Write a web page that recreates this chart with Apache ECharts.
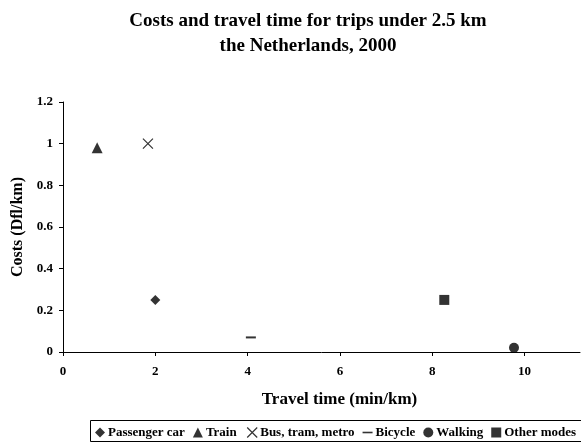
<!DOCTYPE html>
<html>
<head>
<meta charset="utf-8">
<script src="https://cdn.jsdelivr.net/npm/echarts@6/dist/echarts.min.js"></script>
<style>html,body{margin:0;padding:0;background:#fff}#c{width:581px;height:443px}</style>
</head>
<body>
<div id="c"></div>
<script>
var modes = ['Passenger car', 'Train', 'Bus, tram, metro', 'Bicycle', 'Walking', 'Other modes'];
var travelTime = [2.0, 0.74, 1.84, 4.07, 9.77, 8.26];
var costs = [0.25, 0.98, 1.0, 0.07, 0.02, 0.25];
var xTicks = [0, 2, 4, 6, 8, 10];
var yTicks = [0, 0.2, 0.4, 0.6, 0.8, 1, 1.2];

var F = 'Liberation Serif';
var crossPath = 'path://M0,0L10,10M10,0L0,10';
var symbols = ['diamond', 'triangle', crossPath, 'rect', 'circle', 'rect'];
var sizes = [10, 11, 10, [10, 2], 10, 10];

var series = modes.map(function (m, i) {
  var isCross = i === 2;
  return {
    name: m,
    type: 'scatter',
    data: [[travelTime[i], costs[i]]],
    symbol: symbols[i],
    symbolSize: sizes[i],
    itemStyle: isCross ? { color: 'none', borderColor: '#000', borderWidth: 1.2 } : { color: '#000' },
    emphasis: { disabled: true }
  };
});

var chart = echarts.init(document.getElementById('c'));
chart.setOption({
  animation: false,
  backgroundColor: '#fff',
  title: {
    text: 'Costs and travel time for trips under 2.5 km\nthe Netherlands, 2000',
    left: 303, textAlign: 'center', top: 4,
    textStyle: { fontFamily: F, fontWeight: 'bold', fontSize: 19, lineHeight: 25, color: '#000' }
  },
  legend: {
    left: 95, top: 425, width: 700,
    itemGap: 8, itemWidth: 10, itemHeight: 10,
    padding: 0,
    textStyle: { fontFamily: F, fontWeight: 'bold', fontSize: 13, color: '#000', padding: [0, 0, 0, -2] },
    data: modes.map(function (m, i) {
      var ic = symbols[i];
      if (i === 3) ic = 'path://M0,4.3L10,4.3L10,5.9L0,5.9Z';
      var o = { name: m, icon: ic };
      if (i === 2) o.itemStyle = { color: 'none', borderColor: '#000', borderWidth: 1.2 };
      return o;
    })
  },
  graphic: [{
    type: 'rect', shape: { x: 90.5, y: 420.5, width: 520, height: 21 },
    style: { fill: 'none', stroke: '#000', lineWidth: 1 }, silent: true, z: -1
  }],
  grid: { left: 63, top: 102, right: 1, bottom: 91 },
  xAxis: {
    type: 'value', min: 0, max: 11.2, interval: 2,
    name: 'Travel time (min/km)', nameLocation: 'middle', nameGap: 39,
    nameTextStyle: { fontFamily: F, fontWeight: 'bold', fontSize: 17, color: '#000', padding: [0, 0, 0, 36] },
    axisLine: { lineStyle: { color: '#000', width: 1 } },
    axisTick: { show: true, length: 4, lineStyle: { color: '#000' }, customValues: xTicks },
    axisLabel: {
      fontFamily: F, fontWeight: 'bold', fontSize: 13, color: '#000', margin: 13,
      customValues: xTicks,
      formatter: function (v) { return xTicks.indexOf(v) >= 0 ? String(v) : ''; }
    },
    splitLine: { show: false }
  },
  yAxis: {
    type: 'value', min: 0, max: 1.2, interval: 0.2,
    name: 'Costs (Dfl/km)', nameLocation: 'middle', nameGap: 37, nameRotate: 90,
    nameTextStyle: { fontFamily: F, fontWeight: 'bold', fontSize: 16, color: '#000' },
    axisLine: { show: true, lineStyle: { color: '#000', width: 1 } },
    axisTick: { show: true, length: 4, lineStyle: { color: '#000' } },
    axisLabel: {
      fontFamily: F, fontWeight: 'bold', fontSize: 13, color: '#000', margin: 10,
      formatter: function (v) {
        for (var k = 0; k < yTicks.length; k++) if (Math.abs(yTicks[k] - v) < 1e-9) return String(yTicks[k]);
        return '';
      }
    },
    splitLine: { show: false }
  },
  series: series
});
</script>
</body>
</html>
